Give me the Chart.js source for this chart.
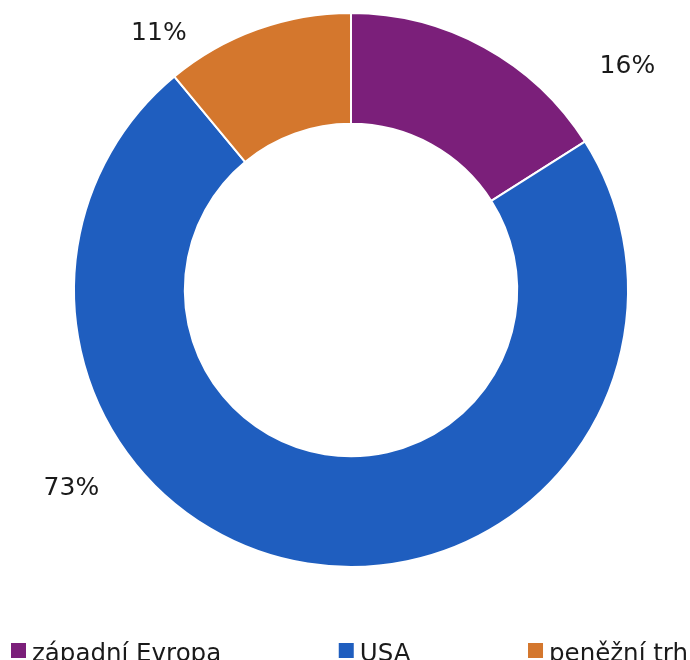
<!DOCTYPE html>
<html>
<head>
<meta charset="utf-8">
<script src="https://cdn.jsdelivr.net/npm/chart.js@4.4.1/dist/chart.umd.min.js"></script>
<style>
  html, body { margin: 0; padding: 0; background: #ffffff; overflow: hidden; }
  #wrap { position: relative; width: 690px; height: 660px; }
</style>
</head>
<body>
<div id="wrap"><canvas id="c" width="690" height="660"></canvas></div>
<script>
// ---- data ----
const categories = ["západní Evropa", "USA", "peněžní trh"];
const shares = [16, 73, 11];
const sliceColors = ["#7B1F7A", "#1F5EBF", "#D4772D"];

// label placement: angle (deg, screen coords) and distance as multiple of outer radius
const labelAngles = [-39, 144.7, -126.8];
const labelDist = [1.284, 1.237, 1.158];

const FONT = "'DejaVu Sans', Inter, sans-serif";

const outsideLabels = {
  id: 'outsideLabels',
  afterDatasetsDraw(chart) {
    const meta = chart.getDatasetMeta(0);
    const arc0 = meta.data[0];
    if (!arc0) return;
    const cx = arc0.x, cy = arc0.y, R = arc0.outerRadius;
    const data = chart.data.datasets[0].data;
    const total = data.reduce((a, b) => a + b, 0);
    const ctx = chart.ctx;
    ctx.save();
    ctx.font = "25px " + FONT;
    ctx.fillStyle = "#1a1a1a";
    ctx.textAlign = "center";
    ctx.textBaseline = "middle";
    data.forEach((v, i) => {
      const a = labelAngles[i] * Math.PI / 180;
      const d = labelDist[i] * R;
      const txt = Math.round(v / total * 100) + "%";
      ctx.fillText(txt, cx + Math.cos(a) * d, cy + Math.sin(a) * d);
    });
    ctx.restore();
  }
};

const spreadLegend = {
  id: 'spreadLegend',
  afterDraw(chart) {
    const ctx = chart.ctx;
    const labels = chart.data.labels;
    const colors = chart.data.datasets[0].backgroundColor;
    const box = 15, gapText = 6;
    const left = 11, right = chart.width - 2;
    const baseline = 661;
    ctx.save();
    ctx.font = "24.5px " + FONT;
    const widths = labels.map(t => box + gapText + ctx.measureText(t).width);
    const sum = widths.reduce((a, b) => a + b, 0);
    const gap = (right - left - sum) / (labels.length - 1);
    let x = left;
    labels.forEach((t, i) => {
      ctx.fillStyle = colors[i];
      ctx.fillRect(x, baseline - 18, box, box);
      ctx.fillStyle = "#1a1a1a";
      ctx.textAlign = "left";
      ctx.textBaseline = "alphabetic";
      ctx.fillText(t, x + box + gapText, baseline);
      x += widths[i] + gap;
    });
    ctx.restore();
  }
};

new Chart(document.getElementById('c'), {
  type: 'doughnut',
  data: {
    labels: categories,
    datasets: [{
      data: shares,
      backgroundColor: sliceColors,
      borderColor: "#ffffff",
      borderWidth: 2,
      hoverOffset: 0
    }]
  },
  options: {
    responsive: false,
    animation: false,
    cutout: "60%",
    layout: { padding: { top: 12, left: 12, right: 0, bottom: 92 } },
    plugins: {
      legend: { display: false },
      tooltip: { enabled: false }
    }
  },
  plugins: [outsideLabels, spreadLegend]
});
</script>
</body>
</html>
